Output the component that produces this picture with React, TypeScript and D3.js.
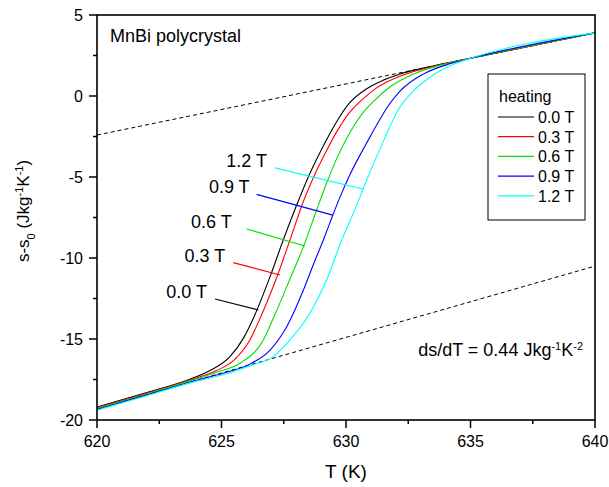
import React from "react";
import * as d3 from "d3";

// curves: T (K) and s-s0 (J/kg K)
const fields = ["0.0 T", "0.3 T", "0.6 T", "0.9 T", "1.2 T"];
const colors = ["#000000", "#ff0000", "#00e000", "#0000ff", "#00ffff"];

const t00 = [620, 622, 623.7, 624.6, 625.34, 625.9, 626.28, 626.95, 627.48, 628.1, 628.49, 628.82, 629.36, 629.76, 630.16, 630.83, 631.5, 632.17, 633.5, 635, 640];
const s00 = [-19.2, -18.3, -17.5, -16.9, -16.09, -14.9, -13.72, -11.15, -8.89, -6.42, -4.98, -3.9, -2.3, -1.25, -0.4, 0.45, 0.98, 1.36, 1.85, 2.33, 3.9];

const t03 = [620, 622, 623.7, 624.8, 625.5, 626.14, 626.55, 627.28, 627.75, 628.31, 628.76, 629.16, 629.63, 630.1, 630.63, 631.23, 632.3, 633.7, 635, 640];
const s03 = [-19.25, -18.35, -17.55, -16.95, -16.3, -15.06, -13.72, -10.94, -8.89, -6.42, -4.8, -3.55, -2.2, -1.1, -0.25, 0.5, 1.3, 1.9, 2.33, 3.9];

const t06 = [620, 622, 623.7, 624.8, 625.74, 626.68, 627.08, 627.75, 628.29, 628.82, 629.22, 629.63, 630.16, 630.6, 631.16, 631.8, 632.7, 633.9, 635, 640];
const s06 = [-19.3, -18.4, -17.6, -17.05, -16.5, -15.06, -13.72, -11.3, -9.3, -7.04, -5.39, -3.85, -2.25, -1.2, -0.25, 0.6, 1.35, 1.95, 2.33, 3.9];

const t09 = [620, 622, 624, 625.2, 626.14, 626.95, 627.62, 628.29, 628.69, 629.09, 629.36, 629.73, 630.16, 630.83, 631.3, 631.7, 632.17, 633.1, 634.2, 635, 640];
const s09 = [-19.35, -18.45, -17.55, -17.05, -16.55, -15.68, -14.24, -11.98, -10.4, -8.89, -7.8, -6.35, -4.85, -2.9, -1.6, -0.6, 0.3, 1.35, 2.0, 2.33, 3.9];

const t12 = [620, 622, 624, 625.2, 626.14, 627.08, 627.75, 628.55, 629.22, 629.83, 630.36, 630.83, 631.5, 632.1, 632.7, 633.5, 634.3, 635, 640];
const s12 = [-19.4, -18.5, -17.6, -17.15, -16.65, -16.09, -15.06, -13.41, -11.36, -8.89, -7.0, -5.2, -2.8, -0.85, 0.3, 1.3, 1.95, 2.33, 3.9];

const seriesT = [t00, t03, t06, t09, t12];
const seriesS = [s00, s03, s06, s09, s12];

// dashed asymptotes
const upperLineT = [620, 640];
const upperLineS = [-2.41, 3.9];
const lowerLineT = [620, 640];
const lowerLineS = [-19.3, -10.5];

// leader lines for the in-plot labels: start (T,s) -> end (T,s)
const leaderFrom = [[624.74, -12.53], [625.47, -10.29], [626.01, -8.21], [626.41, -6.07], [627.15, -4.44]];
const leaderTo = [[626.48, -13.21], [627.35, -11.05], [628.35, -9.26], [629.47, -7.35], [630.67, -5.74]];
const labelGap = [8, 8, 15, 7, 8];

const xTicks = [620, 625, 630, 635, 640];
const yTicks = [-20, -15, -10, -5, 0, 5];

const FONT = "'Liberation Sans', Arial, Helvetica, sans-serif";

export default function App() {
  const W = 609;
  const H = 487;
  const margin = { top: 15, right: 14, bottom: 67, left: 97 };
  const iw = W - margin.left - margin.right;
  const ih = H - margin.top - margin.bottom;

  const x = d3.scaleLinear().domain([620, 640]).range([0, iw]);
  const y = d3.scaleLinear().domain([-20, 5]).range([ih, 0]);

  const line = d3
    .line<[number, number]>()
    .x((d) => x(d[0]))
    .y((d) => y(d[1]))
    .curve(d3.curveMonotoneX);

  const straight = d3
    .line<[number, number]>()
    .x((d) => x(d[0]))
    .y((d) => y(d[1]));

  const zip = (ts: number[], ss: number[]) => ts.map((t, i) => [t, ss[i]] as [number, number]);

  const xMinor = d3.range(620, 640.01, 2.5);
  const yMinor = d3.range(-20, 5.01, 2.5);

  return (
    <svg width={W} height={H} style={{ position: "absolute", left: 0, top: 0, background: "#fff" }} fontFamily={FONT}>
      <defs>
        <clipPath id="plotClip">
          <rect x={0} y={0} width={iw} height={ih} />
        </clipPath>
      </defs>
      <g transform={`translate(${margin.left},${margin.top})`}>
        <g clipPath="url(#plotClip)">
          <path d={straight(zip(upperLineT, upperLineS)) || ""} fill="none" stroke="#000" strokeWidth={1} strokeDasharray="4,3" />
          <path d={straight(zip(lowerLineT, lowerLineS)) || ""} fill="none" stroke="#000" strokeWidth={1} strokeDasharray="4,3" />
          {seriesT.map((ts, i) => (
            <path key={i} d={line(zip(ts, seriesS[i])) || ""} fill="none" stroke={colors[i]} strokeWidth={1.1} />
          ))}
        </g>

        {/* leader lines and labels */}
        {fields.map((f, i) => {
          const a = leaderFrom[i];
          const b = leaderTo[i];
          return (
            <g key={f}>
              <line x1={x(a[0])} y1={y(a[1])} x2={x(b[0])} y2={y(b[1])} stroke={colors[i]} strokeWidth={1.2} />
              <text x={x(a[0]) - labelGap[i]} y={y(a[1]) - 1} textAnchor="end" fontSize={18}>
                {f}
              </text>
            </g>
          );
        })}

        <text x={13} y={27} fontSize={18}>
          MnBi polycrystal
        </text>

        <text x={iw - 12} y={341} textAnchor="end" fontSize={18}>
          ds/dT = 0.44 Jkg
          <tspan baselineShift="super" fontSize={11}>-1</tspan>
          <tspan>K</tspan>
          <tspan baselineShift="super" fontSize={11}>-2</tspan>
        </text>

        {/* legend */}
        <g transform={`translate(${391},${59})`}>
          <rect x={0} y={0} width={97} height={146} fill="#fff" stroke="#000" strokeWidth={1} />
          <text x={11} y={28} fontSize={16}>
            heating
          </text>
          {fields.map((f, i) => (
            <g key={f} transform={`translate(0,${43 + i * 19.7})`}>
              <line x1={10} x2={46} y1={0} y2={0} stroke={colors[i]} strokeWidth={1.2} />
              <text x={50} y={6} fontSize={16}>
                {f}
              </text>
            </g>
          ))}
        </g>

        {/* frame */}
        <rect x={0} y={0} width={iw} height={ih} fill="none" stroke="#000" strokeWidth={1.6} />

        {/* x axis ticks */}
        {xMinor.map((t) => (
          <line key={"xm" + t} x1={x(t)} x2={x(t)} y1={ih} y2={ih + (t % 5 === 0 ? 8 : 4)} stroke="#000" strokeWidth={1.5} />
        ))}
        {xTicks.map((t) => (
          <text key={"xt" + t} x={x(t)} y={ih + 27} textAnchor="middle" fontSize={16}>
            {t}
          </text>
        ))}

        {/* y axis ticks */}
        {yMinor.map((v) => (
          <line key={"ym" + v} x1={0} x2={v % 5 === 0 ? -8 : -4} y1={y(v)} y2={y(v)} stroke="#000" strokeWidth={1.5} />
        ))}
        {yTicks.map((v) => (
          <text key={"yt" + v} x={-14} y={y(v) + 6} textAnchor="end" fontSize={16}>
            {v}
          </text>
        ))}

        <text x={iw / 2} y={ih + 58} textAnchor="middle" fontSize={19}>
          T (K)
        </text>

        <text transform={`translate(${-68},${196}) rotate(-90)`} textAnchor="middle" fontSize={17}>
          s-s
          <tspan baselineShift="sub" fontSize={11}>0</tspan>
          <tspan> (Jkg</tspan>
          <tspan baselineShift="super" fontSize={11}>-1</tspan>
          <tspan>K</tspan>
          <tspan baselineShift="super" fontSize={11}>-1</tspan>
          <tspan>)</tspan>
        </text>
      </g>
    </svg>
  );
}
